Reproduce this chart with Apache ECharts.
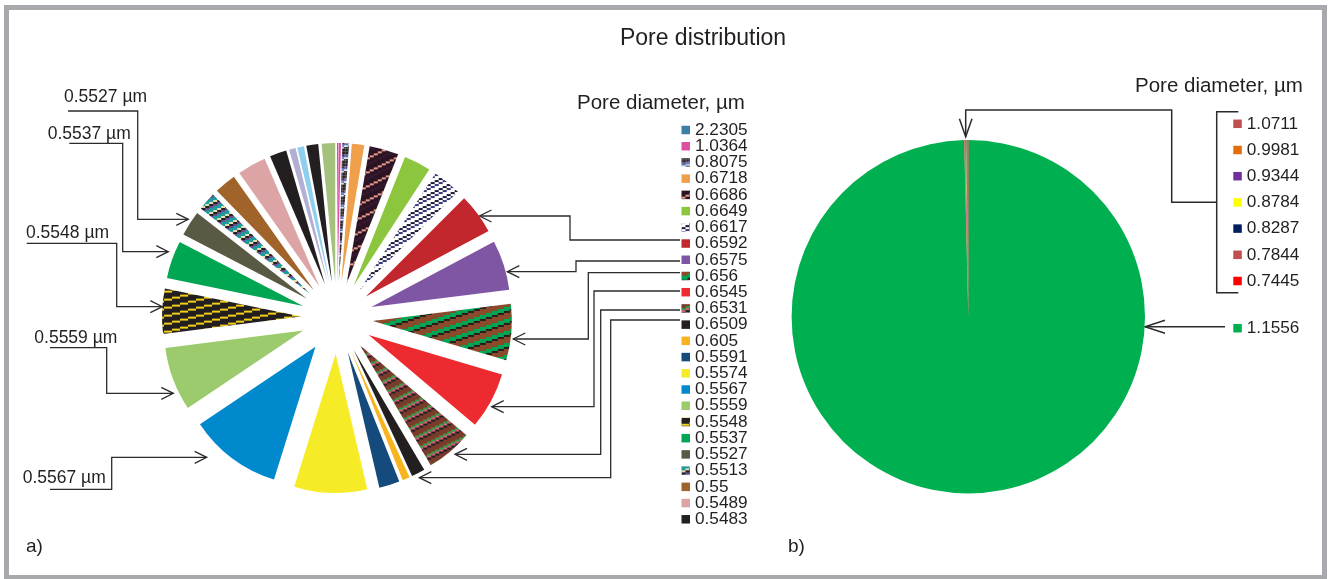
<!DOCTYPE html>
<html><head><meta charset="utf-8">
<script src="https://cdn.jsdelivr.net/npm/echarts@6/dist/echarts.min.js"></script>
<style>html,body{margin:0;padding:0;background:#fff}#c{width:1328px;height:579px}</style>
</head><body><div id="c"></div>
<script>
// ---------- data ----------
const leftNames = ['2.2305','1.0364','0.8075','0.6718','0.6686','0.6649','0.6617','0.6592','0.6575','0.656','0.6545','0.6531','0.6509','0.605','0.5591','0.5574','0.5567','0.5559','0.5548','0.5537','0.5527','0.5513','0.55','0.5489','0.5483','unlabelled A','unlabelled B','unlabelled C','unlabelled D'];
const leftValues = [0.11,0.28,0.81,1.44,3.40,3.13,3.32,4.71,5.82,6.56,6.58,5.38,1.57,0.86,2.39,8.47,10.79,7.39,5.24,4.39,2.93,2.14,2.53,3.33,1.96,0.76,0.78,1.38,1.57];
const leftLegend = leftNames.slice(0, 25);
const rightNames = ['1.1556','1.0711','0.9981','0.9344','0.8784','0.8287','0.7844','0.7445'];
const rightValues = [99.63,0.06,0.05,0.06,0.04,0.05,0.07,0.04];
const rightLegendBracket = rightNames.slice(1);
const rightLegendMain = ['1.1556'];
const calloutLabels = ['0.5527 µm','0.5537 µm','0.5548 µm','0.5559 µm','0.5567 µm'];
const titleText = 'Pore distribution';
const legendTitle = 'Pore diameter, µm';

// ---------- styles ----------
function makePattern(bands, step, px) {
  step = step || 4; px = px || 1;
  const H = bands.reduce((s, b) => s + b[1], 0);
  const W = H * step;
  const c = document.createElement('canvas');
  c.width = W * px; c.height = H * px;
  const ctx = c.getContext('2d');
  for (let x = 0; x < W; x++) {
    const shift = Math.floor(x / step);
    for (let y = 0; y < H; y++) {
      const v = (y + shift) % H;
      let acc = 0, col = bands[0][0];
      for (const b of bands) { if (v < acc + b[1]) { col = b[0]; break; } acc += b[1]; }
      ctx.fillStyle = col; ctx.fillRect(x * px, y * px, px, px);
    }
  }
  return { image: c, repeat: 'repeat' };
}
const pat = {
  p8075: makePattern([['#231f20',3],['#6a4c9c',1],['#3d6db5',1],['#e8e8f0',1],['#231f20',2]], 3, 1.5),
  p6686: makePattern([['#2a1424',3],['#e8998a',1],['#2a1424',2],['#3a1a30',1]], 2, 2),
  p6617: makePattern([['#ffffff',2],['#1f1a3a',1],['#ffffff',1],['#35357a',1]], 2, 2),
  p656:  makePattern([['#8b4a2a',2],['#00a651',2],['#231f20',1],['#8b4a2a',1]], 3, 2),
  p6531: makePattern([['#7a3b2a',2],['#2ea043',1],['#d45b7a',1],['#231f20',1],['#7a3b2a',1]], 2, 2),
  p5548: makePattern([['#231f20',3],['#f2d21b',1]], 4, 2),
  p5513: makePattern([['#1f9b9b',2],['#e8dcb0',1],['#231f20',1],['#6a4d8f',1]], 2, 2)
};
const leftFills = ['#3d7ea6','#de4fa3',pat.p8075,'#f0a04b',pat.p6686,'#8cc63f',pat.p6617,'#c1272d','#7f56a3',pat.p656,'#ed2a2f',pat.p6531,'#231f20','#f7b41e','#144a7c','#f6eb27','#0089cc','#9ccb6e',pat.p5548,'#00a651','#5a5a44',pat.p5513,'#a0642b','#dca4a4','#231f20','#b3aed4','#8fcfee','#231f20','#a5c17e'];
const rightFills = ['#00b050','#c0504d','#e46c0a','#7030a0','#ffff00','#002060','#c0504d','#ff0000'];
const FONT = '"Liberation Sans", Arial, sans-serif';
const INK = '#231f20';
const LINE = '#2b2b2b';

// ---------- annotation helpers ----------
function arrowHead(x, y, dir, len, half) {
  if (dir === 'r') return [[x - len, y - half], [x, y], [x - len, y + half]];
  if (dir === 'l') return [[x + len, y - half], [x, y], [x + len, y + half]];
  return [[x - half, y - len], [x, y], [x + half, y - len]];
}
function pl(points, w) {
  return { type: 'polyline', shape: { points: points }, style: { stroke: LINE, lineWidth: w || 1.3, fill: null } };
}
function txt(text, x, y, size, align) {
  return { type: 'text', style: { text: text, x: x, y: y, font: size + 'px ' + FONT, fill: INK,
    textAlign: align || 'left', align: align || 'left', textVerticalAlign: 'middle', verticalAlign: 'middle' } };
}

const leftCallouts = [
  { label: calloutLabels[0], tx: 64,   ty: 96.7,  pts: [[68,111],[137.7,111],[137.7,219.3],[188.3,219.3]] },
  { label: calloutLabels[1], tx: 47.7, ty: 134.5, pts: [[69.3,143.3],[122.7,143.3],[122.7,251.7],[168.3,251.7]] },
  { label: calloutLabels[2], tx: 26,   ty: 233.3, pts: [[26.7,243.3],[116.7,243.3],[116.7,306.7],[162.3,306.7]] },
  { label: calloutLabels[3], tx: 34.3, ty: 337.7, pts: [[50,347.7],[106.7,347.7],[106.7,393.3],[173.3,393.3]] },
  { label: calloutLabels[4], tx: 22.7, ty: 478.3, pts: [[50,489.3],[111.7,489.3],[111.7,457.3],[206.7,457.3]] }
];
const rightCallouts = [
  [[680,240],[570,240],[570,216],[479.5,216]],
  [[680,261],[576,261],[576,271.7],[507.3,271.7]],
  [[680,272.7],[588.3,272.7],[588.3,339],[513.3,339]],
  [[680,291],[594,291],[594,406.7],[491.7,406.7]],
  [[680,310],[600.7,310],[600.7,454.3],[455,454.3]],
  [[680,320],[610.7,320],[610.7,477.7],[419.3,477.7]]
];

const graphics = [];
graphics.push({ type: 'rect', shape: { x: 6.5, y: 7.5, width: 1318, height: 570 }, style: { stroke: '#a7a9ac', lineWidth: 5, fill: null } });
graphics.push(txt(titleText, 703, 38.5, 23, 'center'));
graphics.push(txt(legendTitle, 577, 103.3, 20.5));
graphics.push(txt(legendTitle, 1135, 86.7, 20.5));
graphics.push(txt('a)', 26, 546.7, 19));
graphics.push(txt('b)', 788, 546.7, 19));
leftCallouts.forEach(c => {
  graphics.push(txt(c.label, c.tx, c.ty, 17.5));
  graphics.push(pl(c.pts));
  const t = c.pts[c.pts.length - 1];
  graphics.push(pl(arrowHead(t[0], t[1], 'r', 12, 6)));
});
rightCallouts.forEach(p => {
  graphics.push(pl(p));
  const t = p[p.length - 1];
  graphics.push(pl(arrowHead(t[0], t[1], 'l', 12, 6)));
});
graphics.push(pl([[1238.3,111.7],[1216.7,111.7],[1216.7,292.7],[1238.3,292.7]], 1.5));
graphics.push(pl([[1216.7,202.3],[1171.7,202.3],[1171.7,110],[965.7,110],[965.7,136.7]], 1.5));
graphics.push(pl(arrowHead(965.7, 136.7, 'd', 18, 6.3), 1.5));
graphics.push(pl([[1225,326.7],[1145,326.7]], 1.5));
graphics.push(pl(arrowHead(1145, 326.7, 'l', 20, 6.5), 1.5));

const legendCommon = {
  orient: 'vertical', padding: 0, itemWidth: 8.5, itemHeight: 8.5, icon: 'rect', selectedMode: false, height: 520,
  textStyle: { fontFamily: FONT, color: INK, fontSize: 17.2 }
};

const option = {
  backgroundColor: '#ffffff',
  animation: false,
  legend: [
    Object.assign({}, legendCommon, { data: leftLegend, left: 681.5, top: 121.5, itemGap: -0.78 }),
    Object.assign({}, legendCommon, { data: rightLegendBracket, left: 1233.3, top: 115.3, itemGap: 9.2 }),
    Object.assign({}, legendCommon, { data: rightLegendMain, left: 1233.3, top: 319.7, itemGap: 0 })
  ],
  series: [
    {
      type: 'pie', center: [337, 318], radius: 139, startAngle: 90, clockwise: true,
      selectedMode: 'multiple', selectedOffset: 36,
      avoidLabelOverlap: false, label: { show: false }, labelLine: { show: false },
      itemStyle: { borderWidth: 0 },
      emphasis: { disabled: true },
      select: { itemStyle: { borderWidth: 0 } },
      data: leftNames.map((n, i) => ({ name: n, value: leftValues[i], selected: true, itemStyle: { color: leftFills[i] } }))
    },
    {
      type: 'pie', center: [968.3, 316.7], radius: 176.7, startAngle: 90, clockwise: true,
      avoidLabelOverlap: false, label: { show: false }, labelLine: { show: false },
      itemStyle: { borderWidth: 0 },
      emphasis: { disabled: true },
      data: rightNames.map((n, i) => ({ name: n, value: rightValues[i], itemStyle: { color: rightFills[i] } }))
    }
  ],
  graphic: { elements: graphics }
};
const chart = echarts.init(document.getElementById('c'), null, { renderer: 'canvas' });
chart.setOption(option);
</script>
</body></html>
